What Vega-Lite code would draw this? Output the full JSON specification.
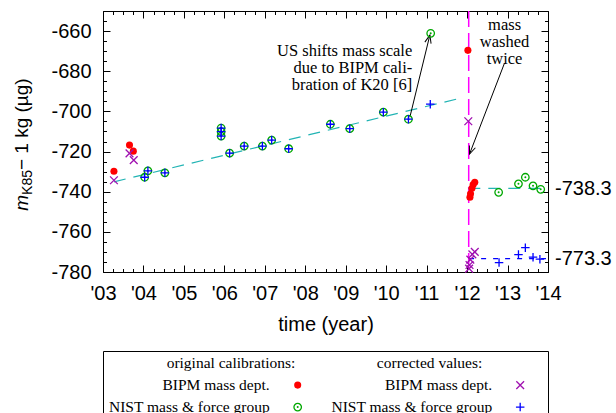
{
  "$schema": "https://vega.github.io/schema/vega-lite/v6.json",
  "padding": {"left": 12, "top": 0, "right": 0, "bottom": 0},
  "background": "white",
  "spacing": 15,
  "datasets": {
    "origBIPM": [
      {"year": 2003.27, "mass": -729.8}, {"year": 2003.655, "mass": -716.8}, {"year": 2003.75, "mass": -719.8},
      {"year": 2012.02, "mass": -669.6}, {"year": 2012.07, "mass": -742.8}, {"year": 2012.085, "mass": -741.0},
      {"year": 2012.12, "mass": -738.3}, {"year": 2012.15, "mass": -736.4}, {"year": 2012.19, "mass": -735.3}
    ],
    "corrBIPM": [
      {"year": 2003.27, "mass": -734.3}, {"year": 2003.655, "mass": -720.9}, {"year": 2003.76, "mass": -724.3},
      {"year": 2012.03, "mass": -704.9}, {"year": 2012.05, "mass": -778.3}, {"year": 2012.06, "mass": -776.5},
      {"year": 2012.08, "mass": -773.8}, {"year": 2012.13, "mass": -771.2}, {"year": 2012.19, "mass": -770.0}
    ],
    "origNIST": [
      {"year": 2004.03, "mass": -732.8}, {"year": 2004.11, "mass": -729.6}, {"year": 2004.53, "mass": -730.6},
      {"year": 2005.92, "mass": -708.3}, {"year": 2005.92, "mass": -710.1}, {"year": 2005.92, "mass": -712.3},
      {"year": 2006.13, "mass": -720.8}, {"year": 2006.49, "mass": -717.3}, {"year": 2006.94, "mass": -717.3},
      {"year": 2007.17, "mass": -714.3}, {"year": 2007.59, "mass": -718.6}, {"year": 2008.62, "mass": -706.4},
      {"year": 2009.10, "mass": -708.6}, {"year": 2009.93, "mass": -700.4}, {"year": 2010.55, "mass": -703.9},
      {"year": 2011.10, "mass": -661.1}, {"year": 2012.78, "mass": -740.3}, {"year": 2013.27, "mass": -736.1},
      {"year": 2013.44, "mass": -732.8}, {"year": 2013.63, "mass": -737.1}, {"year": 2013.82, "mass": -738.8}
    ],
    "corrNIST": [
      {"year": 2004.03, "mass": -732.8}, {"year": 2004.11, "mass": -729.6}, {"year": 2004.53, "mass": -730.6},
      {"year": 2005.92, "mass": -708.3}, {"year": 2005.92, "mass": -710.1}, {"year": 2005.92, "mass": -712.3},
      {"year": 2006.13, "mass": -720.8}, {"year": 2006.49, "mass": -717.3}, {"year": 2006.94, "mass": -717.3},
      {"year": 2007.17, "mass": -714.3}, {"year": 2007.59, "mass": -718.6}, {"year": 2008.62, "mass": -706.4},
      {"year": 2009.10, "mass": -708.6}, {"year": 2009.93, "mass": -700.4}, {"year": 2010.55, "mass": -703.9},
      {"year": 2011.09, "mass": -696.4}, {"year": 2012.79, "mass": -775.3}, {"year": 2013.27, "mass": -771.3},
      {"year": 2013.44, "mass": -767.9}, {"year": 2013.63, "mass": -772.6}, {"year": 2013.80, "mass": -773.6}
    ],
    "lines": [
      {"series": "trend", "year": 2003.27, "mass": -735.1, "year2": 2011.76, "mass2": -693.8},
      {"series": "trend", "year": 2012.03, "mass": -738.3, "year2": 2013.94, "mass2": -738.3},
      {"series": "corrected", "year": 2012.05, "mass": -773.3, "year2": 2013.95, "mass2": -773.3}
    ],
    "arrows": [
      {"arrow": "US shift", "year": 2010.585, "mass": -702.9, "year2": 2011.08, "mass2": -662.0},
      {"arrow": "washed", "year": 2012.926, "mass": -675.9, "year2": 2012.06, "mass2": -721.25}
    ],
    "notes": [
      {"note": "US shift", "year": 2010.644, "mass": -670.1, "text": "US shifts mass scale\ndue to BIPM cali-\nbration of K20 [6]"},
      {"note": "washed", "year": 2012.926, "mass": -656.75, "text": "mass\nwashed\ntwice"}
    ],
    "washes": [{"event": "mass washed", "year": 2012.04}],
    "legend": [
      {"group": "original", "row": "header", "label": "original calibrations:"},
      {"group": "corrected", "row": "header", "label": "corrected values:"},
      {"group": "original", "row": "BIPM", "label": "BIPM mass dept."},
      {"group": "original", "row": "NIST", "label": "NIST mass & force group"},
      {"group": "corrected", "row": "BIPM", "label": "BIPM mass dept."},
      {"group": "corrected", "row": "NIST", "label": "NIST mass & force group"}
    ]
  },
  "vconcat": [
    {
      "width": 445,
      "height": 261,
      "resolve": {"axis": {"x": "independent", "y": "independent"}},
      "layer": [
        {
          "data": {"name": "washes"},
          "mark": {"type": "rule", "color": "#ff00ff", "strokeWidth": 1.5, "strokeDash": [16, 6]},
          "encoding": {
            "x": {"field": "year", "type": "quantitative", "scale": {"domain": [2003, 2014], "nice": false, "zero": false}, "axis": null}
          }
        },
        {
          "data": {"name": "lines"},
          "transform": [{"filter": "datum.series == 'trend'"}],
          "mark": {"type": "rule", "color": "#22b4b4", "strokeWidth": 1.2, "strokeDash": [12, 8]},
          "encoding": {
            "x": {"field": "year", "type": "quantitative", "scale": {"domain": [2003, 2014], "nice": false, "zero": false}, "axis": null},
            "y": {"field": "mass", "type": "quantitative", "scale": {"domain": [-780, -650], "nice": false, "zero": false}, "axis": null},
            "x2": {"field": "year2"},
            "y2": {"field": "mass2"}
          }
        },
        {
          "data": {"name": "lines"},
          "transform": [{"filter": "datum.series == 'corrected'"}],
          "mark": {"type": "rule", "color": "#0000ff", "strokeWidth": 1.2, "strokeDash": [5, 7]},
          "encoding": {
            "x": {"field": "year", "type": "quantitative", "axis": null},
            "y": {"field": "mass", "type": "quantitative", "axis": null},
            "x2": {"field": "year2"},
            "y2": {"field": "mass2"}
          }
        },
        {
          "data": {"name": "arrows"},
          "mark": {"type": "rule", "color": "black", "strokeWidth": 1},
          "encoding": {
            "x": {"field": "year", "type": "quantitative", "axis": null},
            "y": {"field": "mass", "type": "quantitative", "axis": null},
            "x2": {"field": "year2"},
            "y2": {"field": "mass2"}
          }
        },
        {
          "data": {"name": "arrows"},
          "transform": [{"filter": "datum.arrow == 'US shift'"}],
          "mark": {"type": "point", "shape": "M-0.4,1L0,0L0.4,1", "size": 256, "angle": 13.7, "filled": false, "stroke": "black", "strokeWidth": 1, "opacity": 1},
          "encoding": {
            "x": {"field": "year2", "type": "quantitative", "axis": null},
            "y": {"field": "mass2", "type": "quantitative", "axis": null}
          }
        },
        {
          "data": {"name": "arrows"},
          "transform": [{"filter": "datum.arrow == 'washed'"}],
          "mark": {"type": "point", "shape": "M-0.4,1L0,0L0.4,1", "size": 256, "angle": 201.1, "filled": false, "stroke": "black", "strokeWidth": 1, "opacity": 1},
          "encoding": {
            "x": {"field": "year2", "type": "quantitative", "axis": null},
            "y": {"field": "mass2", "type": "quantitative", "axis": null}
          }
        },
        {
          "data": {"name": "origNIST"},
          "mark": {"type": "point", "shape": "circle", "size": 56, "filled": false, "stroke": "#00a800", "strokeWidth": 1.3, "opacity": 1},
          "encoding": {
            "x": {
              "field": "year", "type": "quantitative",
              "axis": {
                "orient": "top", "labels": false, "title": null, "domain": false,
                "values": [2003,2003.25,2003.5,2003.75,2004,2004.25,2004.5,2004.75,2005,2005.25,2005.5,2005.75,2006,2006.25,2006.5,2006.75,2007,2007.25,2007.5,2007.75,2008,2008.25,2008.5,2008.75,2009,2009.25,2009.5,2009.75,2010,2010.25,2010.5,2010.75,2011,2011.25,2011.5,2011.75,2012,2012.25,2012.5,2012.75,2013,2013.25,2013.5,2013.75,2014],
                "tickSize": {"condition": {"test": "datum.value % 1 == 0", "value": -7}, "value": -3.5}
              }
            },
            "y": {
              "field": "mass", "type": "quantitative",
              "axis": {
                "orient": "right", "title": null, "domain": false,
                "values": [-780,-775,-770,-765,-760,-755,-750,-745,-740,-735,-730,-725,-720,-715,-710,-705,-700,-695,-690,-685,-680,-675,-670,-665,-660,-655,-650,-738.3,-773.3],
                "labelExpr": "(datum.value == -738.3 || datum.value == -773.3) ? toString(datum.value) : ''",
                "tickSize": {"condition": {"test": "datum.value % 20 == 0", "value": -7}, "value": -3.5},
                "tickOpacity": {"condition": {"test": "datum.value == -738.3 || datum.value == -773.3", "value": 0}, "value": 1},
                "labelPadding": 10, "labelOverlap": false, "labelFlush": false, "labelBound": false
              }
            }
          }
        },
        {
          "data": {"name": "origNIST"},
          "mark": {"type": "point", "shape": "circle", "size": 4, "filled": true, "color": "#00a800", "opacity": 1},
          "encoding": {
            "x": {"field": "year", "type": "quantitative", "axis": null},
            "y": {"field": "mass", "type": "quantitative", "axis": null}
          }
        },
        {
          "data": {"name": "corrNIST"},
          "mark": {"type": "point", "shape": "M-1,0L1,0M0,-1L0,1", "size": 72, "filled": false, "stroke": "#0000ff", "strokeWidth": 1.3, "opacity": 1},
          "encoding": {
            "x": {"field": "year", "type": "quantitative", "axis": null},
            "y": {
              "field": "mass", "type": "quantitative",
              "axis": {
                "orient": "left", "labels": false, "ticks": false, "domain": false,
                "title": "m", "titleFontStyle": "italic", "titleFontSize": 19,
                "titleX": -75.5, "titleY": 191.4, "titleAlign": "center", "titleBaseline": "alphabetic", "titleAngle": -90
              }
            }
          }
        },
        {
          "data": {"name": "origBIPM"},
          "mark": {"type": "point", "shape": "circle", "size": 50, "filled": true, "color": "#ff0000", "opacity": 1},
          "encoding": {
            "x": {
              "field": "year", "type": "quantitative",
              "axis": {
                "orient": "bottom", "title": "time (year)", "domain": false,
                "values": [2003,2003.25,2003.5,2003.75,2004,2004.25,2004.5,2004.75,2005,2005.25,2005.5,2005.75,2006,2006.25,2006.5,2006.75,2007,2007.25,2007.5,2007.75,2008,2008.25,2008.5,2008.75,2009,2009.25,2009.5,2009.75,2010,2010.25,2010.5,2010.75,2011,2011.25,2011.5,2011.75,2012,2012.25,2012.5,2012.75,2013,2013.25,2013.5,2013.75,2014],
                "labelExpr": "datum.value % 1 == 0 ? \"'\" + slice(toString(datum.value - 1900), 1) : ''",
                "tickSize": {"condition": {"test": "datum.value % 1 == 0", "value": -7}, "value": -3.5},
                "labelPadding": 18, "titlePadding": 7.5, "labelOverlap": false, "labelFlush": false, "labelBound": false
              }
            },
            "y": {
              "field": "mass", "type": "quantitative",
              "axis": {
                "orient": "left", "domain": false,
                "values": [-780,-775,-770,-765,-760,-755,-750,-745,-740,-735,-730,-725,-720,-715,-710,-705,-700,-695,-690,-685,-680,-675,-670,-665,-660,-655,-650],
                "labelExpr": "datum.value % 20 == 0 ? toString(datum.value) : ''",
                "tickSize": {"condition": {"test": "datum.value % 20 == 0", "value": -7}, "value": -3.5},
                "labelPadding": 19, "labelOverlap": false, "labelFlush": false, "labelBound": false,
                "title": "− 1 kg (µg)", "titleFontSize": 19,
                "titleX": -75.5, "titleY": 112.7, "titleAlign": "center", "titleBaseline": "alphabetic", "titleAngle": -90
              }
            }
          }
        },
        {
          "data": {"name": "corrBIPM"},
          "mark": {"type": "point", "shape": "M-1,-1L1,1M-1,1L1,-1", "size": 60, "filled": false, "stroke": "#a010b0", "strokeWidth": 1.3, "opacity": 1},
          "encoding": {
            "x": {"field": "year", "type": "quantitative", "axis": null},
            "y": {
              "field": "mass", "type": "quantitative",
              "axis": {
                "orient": "left", "labels": false, "ticks": false, "domain": false,
                "title": "K85", "titleFontSize": 14,
                "titleX": -71.5, "titleY": 171, "titleAlign": "center", "titleBaseline": "alphabetic", "titleAngle": -90
              }
            }
          }
        },
        {
          "data": {"name": "notes"},
          "transform": [{"filter": "datum.note == 'US shift'"}],
          "mark": {"type": "text", "font": "Liberation Serif", "fontSize": 16.5, "align": "right", "baseline": "middle", "lineBreak": "\n", "lineHeight": 17, "color": "black"},
          "encoding": {
            "x": {"field": "year", "type": "quantitative", "axis": null},
            "y": {"field": "mass", "type": "quantitative", "axis": null},
            "text": {"field": "text"}
          }
        },
        {
          "data": {"name": "notes"},
          "transform": [{"filter": "datum.note == 'washed'"}],
          "mark": {"type": "text", "font": "Liberation Serif", "fontSize": 16.5, "align": "center", "baseline": "middle", "lineBreak": "\n", "lineHeight": 17, "color": "black"},
          "encoding": {
            "x": {"field": "year", "type": "quantitative", "axis": null},
            "y": {"field": "mass", "type": "quantitative", "axis": null},
            "text": {"field": "text"}
          }
        }
      ]
    },
    {
      "width": 445,
      "height": 66,
      "data": {"name": "legend"},
      "encoding": {
        "x": {"field": "group", "type": "nominal", "scale": {"type": "point", "domain": ["original", "corrected"], "paddingOuter": 0.5, "align": 0.875}, "axis": null},
        "y": {"field": "row", "type": "nominal", "scale": {"type": "point", "domain": ["header", "BIPM", "NIST"], "paddingOuter": 0.7, "align": 0.55}, "axis": null}
      },
      "layer": [
        {
          "transform": [{"filter": "datum.row == 'header' && datum.group == 'original'"}],
          "mark": {"type": "text", "font": "Liberation Serif", "fontSize": 15.5, "align": "center", "baseline": "middle", "dx": -66.7, "color": "black"},
          "encoding": {"text": {"field": "label"}}
        },
        {
          "transform": [{"filter": "datum.row == 'header' && datum.group == 'corrected'"}],
          "mark": {"type": "text", "font": "Liberation Serif", "fontSize": 15.5, "align": "center", "baseline": "middle", "dx": -90.6, "color": "black"},
          "encoding": {"text": {"field": "label"}}
        },
        {
          "transform": [{"filter": "datum.row != 'header'"}],
          "mark": {"type": "text", "font": "Liberation Serif", "fontSize": 15.5, "align": "right", "baseline": "middle", "dx": -28, "color": "black"},
          "encoding": {"text": {"field": "label"}}
        },
        {
          "transform": [{"filter": "datum.row == 'BIPM' && datum.group == 'original'"}],
          "mark": {"type": "point", "shape": "circle", "size": 50, "filled": true, "color": "#ff0000", "opacity": 1}
        },
        {
          "transform": [{"filter": "datum.row == 'NIST' && datum.group == 'original'"}],
          "mark": {"type": "point", "shape": "circle", "size": 56, "filled": false, "stroke": "#00a800", "strokeWidth": 1.3, "opacity": 1}
        },
        {
          "transform": [{"filter": "datum.row == 'NIST' && datum.group == 'original'"}],
          "mark": {"type": "point", "shape": "circle", "size": 4, "filled": true, "color": "#00a800", "opacity": 1}
        },
        {
          "transform": [{"filter": "datum.row == 'BIPM' && datum.group == 'corrected'"}],
          "mark": {"type": "point", "shape": "M-1,-1L1,1M-1,1L1,-1", "size": 60, "filled": false, "stroke": "#a010b0", "strokeWidth": 1.3, "opacity": 1}
        },
        {
          "transform": [{"filter": "datum.row == 'NIST' && datum.group == 'corrected'"}],
          "mark": {"type": "point", "shape": "M-1,0L1,0M0,-1L0,1", "size": 72, "filled": false, "stroke": "#0000ff", "strokeWidth": 1.3, "opacity": 1}
        }
      ]
    }
  ],
  "config": {
    "view": {"stroke": "black", "strokeWidth": 1},
    "axis": {
      "grid": false, "domain": false,
      "labelFont": "Liberation Sans", "labelFontSize": 20, "labelColor": "black",
      "titleFont": "Liberation Sans", "titleFontSize": 20, "titleFontWeight": "normal", "titleColor": "black",
      "tickColor": "black", "tickWidth": 1
    }
  }
}
